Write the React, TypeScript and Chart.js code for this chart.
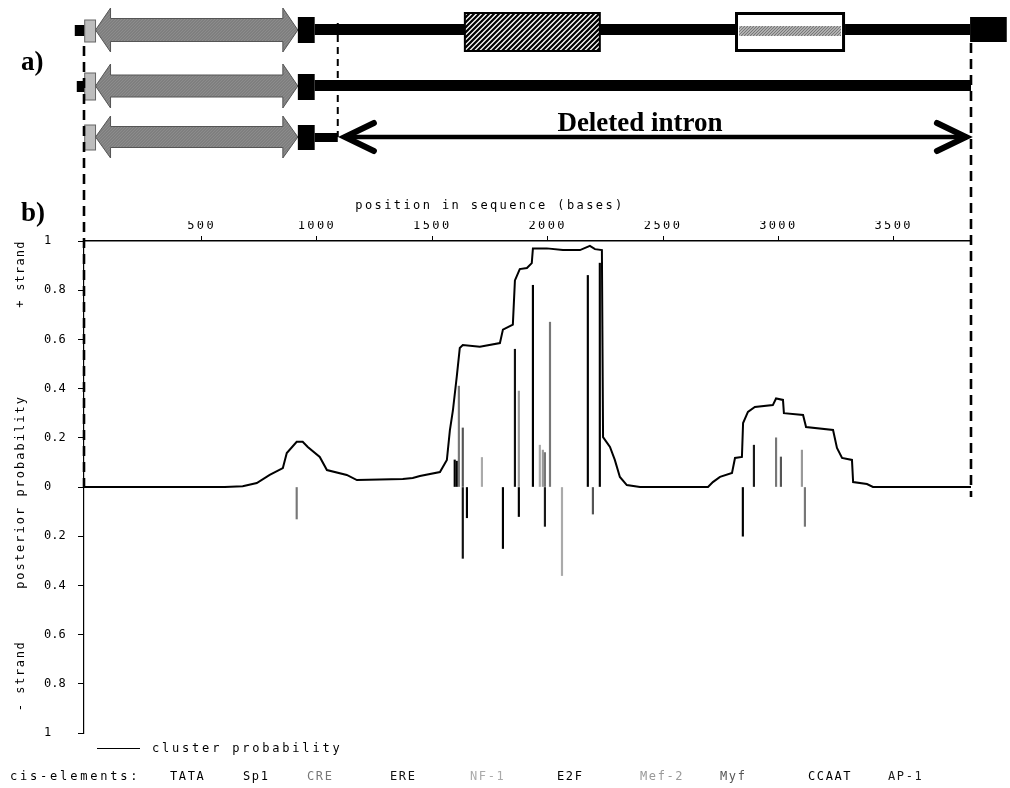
import { useEffect, useRef } from 'react';
import { Chart, registerables } from 'chart.js';

Chart.register(...registerables);

// ---- data (positions in bases) ----
const xTicks = [500, 1000, 1500, 2000, 2500, 3000, 3500];
const yTicks = [-1, -0.8, -0.6, -0.4, -0.2, 0, 0.2, 0.4, 0.6, 0.8, 1];

const clusterPos = [
  -10, 600, 678, 739, 795, 852, 869, 912, 938, 960, 1012, 1043, 1129, 1173, 1272, 1372, 1415, 1446,
  1533, 1563, 1576, 1589, 1606, 1619, 1632, 1706, 1793, 1806, 1849, 1858, 1879, 1910, 1931, 1936,
  1996, 2066, 2140, 2183, 2205, 2235, 2240, 2270, 2291, 2313, 2343, 2400, 2695, 2716, 2747, 2799,
  2812, 2842, 2847, 2868, 2898, 2976, 2990, 3020, 3024, 3107, 3120, 3237, 3254, 3276, 3319, 3324,
  3384, 3410, 3835,
];
const clusterProb = [
  0, 0, 0.003, 0.016, 0.049, 0.077, 0.138, 0.184, 0.184, 0.163, 0.122, 0.069, 0.049, 0.028, 0.03, 0.033, 0.037, 0.045,
  0.061, 0.11, 0.23, 0.31, 0.45, 0.565, 0.577, 0.57, 0.585, 0.64, 0.66, 0.84, 0.886, 0.89, 0.91, 0.97,
  0.97, 0.963, 0.963, 0.98, 0.967, 0.963, 0.203, 0.163, 0.11, 0.041, 0.008, 0, 0, 0.02, 0.041, 0.057,
  0.118, 0.122, 0.26, 0.305, 0.325, 0.333, 0.36, 0.354, 0.3, 0.293, 0.244, 0.232, 0.159, 0.118, 0.11, 0.02,
  0.012, 0, 0,
];

const cisLabels = ['TATA', 'Sp1', 'CRE', 'ERE', 'NF-1', 'E2F', 'Mef-2', 'Myf', 'CCAAT', 'AP-1'];
const cisColors = ['#000000', '#000000', '#777777', '#111111', '#aaaaaa', '#000000', '#999999', '#555555', '#000000', '#1a1a1a'];

// cis-element hits: position (bases), signed posterior (+ strand up, - strand down), type index
const cisPos = [
  1597, 1606, 1615, 1632, 1715, 1858, 1875, 1936, 1966, 1979, 1988, 2010, 2174, 2226, 2894, 2990, 3011, 3102,
  912, 1632, 1650, 1806, 1875, 1988, 2062, 2196, 2846, 3115,
];
const cisValue = [
  0.11, 0.105, 0.41, 0.24, 0.12, 0.56, 0.39, 0.82, 0.17, 0.15, 0.14, 0.67, 0.86, 0.91, 0.17, 0.2, 0.122, 0.15,
  -0.13, -0.29, -0.125, -0.25, -0.12, -0.16, -0.36, -0.11, -0.2, -0.16,
];
const cisType = [
  0, 5, 2, 7, 4, 3, 6, 5, 4, 6, 2, 2, 1, 5, 9, 2, 7, 6,
  2, 3, 0, 1, 8, 9, 4, 7, 0, 2,
];

// gene structure features (bases)
const leaderStub = [-50, -7];
const promoterBox = [-7, 40];
const codingArrow = [40, 917];
const exonBlock = [917, 990];
const hatchedDomain = [1641, 2226];
const stripedDomain = [2812, 3289];
const endBlock = [3831, 3990];
const intronCut = 1090;
const deletedIntron = [1108, 3826];
const sequenceEnd = 3835;

const MONO = '"DejaVu Sans Mono", monospace';
const SERIF = '"Liberation Serif", "DejaVu Serif", serif';

function hatch(ctx: CanvasRenderingContext2D, x0: number, y0: number, x1: number, y1: number, spacing: number, color: string, lw: number) {
  ctx.save();
  ctx.beginPath();
  ctx.rect(x0, y0, x1 - x0, y1 - y0);
  ctx.clip();
  ctx.strokeStyle = color;
  ctx.lineWidth = lw;
  const h = y1 - y0;
  for (let x = x0 - h; x < x1 + h; x += spacing) {
    ctx.beginPath();
    ctx.moveTo(x, y1);
    ctx.lineTo(x + h, y0);
    ctx.stroke();
  }
  ctx.restore();
}

function arrowPath(ctx: CanvasRenderingContext2D, x0: number, x1: number, c: number, B: number, H: number, hl: number) {
  ctx.beginPath();
  ctx.moveTo(x0, c);
  ctx.lineTo(x0 + hl, c - H);
  ctx.lineTo(x0 + hl, c - B);
  ctx.lineTo(x1 - hl, c - B);
  ctx.lineTo(x1 - hl, c - H);
  ctx.lineTo(x1, c);
  ctx.lineTo(x1 - hl, c + H);
  ctx.lineTo(x1 - hl, c + B);
  ctx.lineTo(x0 + hl, c + B);
  ctx.lineTo(x0 + hl, c + H);
  ctx.closePath();
}

function dblArrow(ctx: CanvasRenderingContext2D, x0: number, x1: number, c: number, B: number, H: number, hl: number) {
  ctx.save();
  arrowPath(ctx, x0, x1, c, B, H, hl);
  ctx.fillStyle = '#8c8c8c';
  ctx.fill();
  ctx.clip();
  hatch(ctx, x0, c - H, x1, c + H, 3, 'rgba(70,70,70,0.35)', 1);
  ctx.restore();
  ctx.save();
  arrowPath(ctx, x0, x1, c, B, H, hl);
  ctx.strokeStyle = '#555';
  ctx.lineWidth = 1;
  ctx.stroke();
  ctx.restore();
}

const overlayPlugin = {
  id: 'overlay',
  afterDatasetsDraw(chart: any) {
    (chart.ctx as any).letterSpacing = '2.4px';
  },
  afterDraw(chart: any) {
    const ctx: CanvasRenderingContext2D = chart.ctx;
    (ctx as any).letterSpacing = '0px';
    const xs = chart.scales.x;
    const X = (b: number) => xs.getPixelForValue(b);
    const ys = chart.scales.y;
    const y0 = ys.getPixelForValue(0);

    ctx.save();
    // ---- part a) gene diagrams ----
    const rows = [
      { c: 30, box: [20, 42], B: 11.5, H: 22, blk: [17, 43], line: [24, 35] },
      { c: 86, box: [73, 100], B: 11, H: 22, blk: [74, 100], line: [80, 91] },
      { c: 137, box: [125, 150], B: 10.5, H: 21, blk: [125, 150], line: [133, 142] },
    ];
    rows.forEach((r, i) => {
      ctx.fillStyle = '#000';
      if (i < 2) ctx.fillRect(X(leaderStub[0]) + (i === 1 ? 2 : 0), r.line[0] + 1, X(leaderStub[1]) - X(leaderStub[0]), r.line[1] - r.line[0]);
      const lineEnd = i === 2 ? X(intronCut) : i === 0 ? X(endBlock[0]) : X(sequenceEnd);
      ctx.fillRect(X(exonBlock[1]), r.line[0], lineEnd - X(exonBlock[1]), r.line[1] - r.line[0]);
      ctx.fillStyle = '#bdbdbd';
      ctx.fillRect(X(promoterBox[0]), r.box[0], X(promoterBox[1]) - X(promoterBox[0]), r.box[1] - r.box[0]);
      ctx.strokeStyle = '#666';
      ctx.lineWidth = 1;
      ctx.strokeRect(X(promoterBox[0]), r.box[0], X(promoterBox[1]) - X(promoterBox[0]), r.box[1] - r.box[0]);
      dblArrow(ctx, X(codingArrow[0]), X(codingArrow[1]), r.c, r.B, r.H, 15);
      ctx.fillStyle = '#000';
      ctx.fillRect(X(exonBlock[0]), r.blk[0], X(exonBlock[1]) - X(exonBlock[0]), r.blk[1] - r.blk[0]);
    });
    {
      const hx0 = X(hatchedDomain[0]), hx1 = X(hatchedDomain[1]);
      ctx.fillStyle = '#fff';
      ctx.fillRect(hx0, 13, hx1 - hx0, 38);
      hatch(ctx, hx0, 13, hx1, 51, 5, '#000', 2.2);
      ctx.strokeStyle = '#000';
      ctx.lineWidth = 2;
      ctx.strokeRect(hx0, 13, hx1 - hx0, 38);
      const sx0 = X(stripedDomain[0]), sx1 = X(stripedDomain[1]);
      ctx.fillStyle = '#fff';
      ctx.fillRect(sx0, 12, sx1 - sx0, 40);
      ctx.fillStyle = '#d0d0d0';
      ctx.fillRect(sx0 + 4, 26, sx1 - sx0 - 8, 10);
      hatch(ctx, sx0 + 4, 26, sx1 - 4, 36, 3, '#777', 1.2);
      ctx.lineWidth = 3;
      ctx.strokeRect(sx0 + 1.5, 13.5, sx1 - sx0 - 3, 37);
      ctx.fillStyle = '#000';
      ctx.fillRect(X(endBlock[0]), 17, X(endBlock[1]) - X(endBlock[0]), 25);
    }
    {
      const a0 = X(deletedIntron[0]), a1 = X(deletedIntron[1]);
      ctx.strokeStyle = '#000';
      ctx.lineWidth = 4.5;
      ctx.lineCap = 'butt';
      ctx.beginPath();
      ctx.moveTo(a0 + 3, 137);
      ctx.lineTo(a1 - 3, 137);
      ctx.stroke();
      ctx.lineWidth = 6;
      ctx.lineCap = 'round';
      ctx.lineJoin = 'miter';
      ctx.beginPath();
      ctx.moveTo(a0 + 32, 123);
      ctx.lineTo(a0 + 3, 137);
      ctx.lineTo(a0 + 32, 151);
      ctx.stroke();
      ctx.beginPath();
      ctx.moveTo(a1 - 32, 123);
      ctx.lineTo(a1 - 3, 137);
      ctx.lineTo(a1 - 32, 151);
      ctx.stroke();
      ctx.fillStyle = '#000';
      ctx.font = `bold 27px ${SERIF}`;
      ctx.textAlign = 'center';
      ctx.textBaseline = 'alphabetic';
      ctx.fillText('Deleted intron', 640, 131);
    }
    ctx.strokeStyle = '#000';
    ctx.lineCap = 'butt';
    ctx.setLineDash([10, 6]);
    ctx.lineWidth = 2.6;
    ctx.beginPath();
    ctx.moveTo(X(-10), 46);
    ctx.lineTo(X(-10), y0);
    ctx.stroke();
    ctx.beginPath();
    ctx.moveTo(X(sequenceEnd), 43);
    ctx.lineTo(X(sequenceEnd), y0 + 10);
    ctx.stroke();
    ctx.setLineDash([7, 5]);
    ctx.lineWidth = 2;
    ctx.beginPath();
    ctx.moveTo(X(intronCut), 23);
    ctx.lineTo(X(intronCut), 137);
    ctx.stroke();
    ctx.setLineDash([]);

    ctx.fillStyle = '#000';
    ctx.font = `bold 27px ${SERIF}`;
    ctx.textAlign = 'left';
    ctx.textBaseline = 'alphabetic';
    ctx.fillText('a)', 21, 70);
    ctx.fillText('b)', 21, 221);

    ctx.font = `12px ${MONO}`;
    (ctx as any).letterSpacing = '2.4px';
    ctx.textAlign = 'center';
    ctx.textBaseline = 'middle';
    ctx.fillText('position in sequence (bases)', 490, 206);

    const rot = (t: string, cy: number, ls: string) => {
      ctx.save();
      (ctx as any).letterSpacing = ls;
      ctx.translate(21, cy);
      ctx.rotate(-Math.PI / 2);
      ctx.textAlign = 'center';
      ctx.textBaseline = 'middle';
      ctx.fillText(t, 0, 0);
      ctx.restore();
    };
    rot('+ strand', 274, '1.2px');
    rot('posterior probability', 492, '2px');
    rot('- strand', 676, '1.6px');

    ctx.strokeStyle = '#000';
    ctx.lineWidth = 1;
    ctx.beginPath();
    ctx.moveTo(97, 748.5);
    ctx.lineTo(140, 748.5);
    ctx.stroke();
    (ctx as any).letterSpacing = '2.8px';
    ctx.textAlign = 'left';
    ctx.fillStyle = '#000';
    ctx.fillText('cluster probability', 152, 749);
    ctx.fillText('cis-elements:', 10, 777);
    const labelX = [170, 243, 307, 390, 470, 557, 640, 720, 808, 888];
    (ctx as any).letterSpacing = '1.6px';
    cisLabels.forEach((l, i) => {
      ctx.fillStyle = cisColors[i];
      ctx.fillText(l, labelX[i], 777);
    });
    (ctx as any).letterSpacing = '0px';
    ctx.restore();
  },
};

export default function App() {
  const ref = useRef<HTMLCanvasElement>(null);
  useEffect(() => {
    const fmt = (v: number) => {
      const a = Math.round(Math.abs(v) * 10) / 10;
      if (a === 0) return '0';
      if (a === 1) return '1';
      return a.toFixed(1);
    };
    const chart = new Chart(ref.current as HTMLCanvasElement, {
      type: 'line',
      data: {
        datasets: [
          {
            type: 'line',
            label: 'cluster probability',
            data: clusterPos.map((x, i) => ({ x, y: clusterProb[i] })),
            borderColor: '#000',
            borderWidth: 2,
            pointRadius: 0,
            tension: 0,
            fill: false,
            order: 0,
          } as any,
          {
            type: 'bar',
            label: 'cis-elements',
            data: cisPos.map((x, i) => ({ x, y: cisValue[i] >= 0 ? [0, cisValue[i]] : [cisValue[i], 0] })),
            backgroundColor: cisType.map((t) => cisColors[t]),
            borderWidth: 0,
            barThickness: 1.5,
            order: 1,
          } as any,
        ],
      },
      options: {
        animation: false,
        responsive: true,
        maintainAspectRatio: false,
        layout: { padding: { left: 44, right: 39, top: 221, bottom: 55 } },
        plugins: { legend: { display: false }, tooltip: { enabled: false } },
        scales: {
          x: {
            type: 'linear',
            position: 'top',
            min: -10,
            max: 3835,
            offset: false,
            afterBuildTicks: (s: any) => {
              s.ticks = xTicks.map((v) => ({ value: v }));
            },
            afterFit: (s: any) => {
              s.height = 20;
            },
            ticks: {
              z: 1,
              color: '#000',
              font: { family: MONO, size: 12 },
              padding: 3,
              maxRotation: 0,
              autoSkip: false,
              callback: (v: any) => String(v),
            },
            grid: { offset: false, drawOnChartArea: false, tickLength: 5, color: '#000', lineWidth: 1 },
            border: { color: '#000', width: 1.5 },
            title: { display: false },
          },
          y: {
            type: 'linear',
            min: -1,
            max: 1,
            afterBuildTicks: (s: any) => {
              s.ticks = yTicks.map((v) => ({ value: v }));
            },
            afterFit: (s: any) => {
              s.width = 40;
            },
            ticks: {
              color: '#000',
              font: { family: MONO, size: 12 },
              crossAlign: 'far',
              padding: 4,
              autoSkip: false,
              callback: (v: any) => fmt(Number(v)),
            },
            grid: { offset: false, drawOnChartArea: false, tickLength: 6, color: '#000', lineWidth: 1 },
            border: { color: '#000', width: 1.2 },
          },
        },
      } as any,
      plugins: [overlayPlugin],
    });
    return () => chart.destroy();
  }, []);
  return (
    <div style={{ position: 'fixed', left: 0, top: 0, width: 1010, height: 788, background: '#fff' }}>
      <canvas ref={ref} />
    </div>
  );
}
